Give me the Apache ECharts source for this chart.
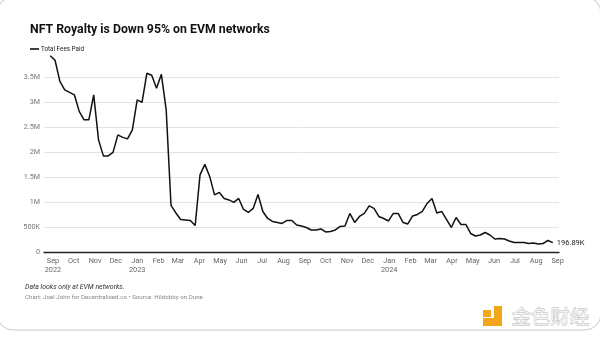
<!DOCTYPE html>
<html>
<head>
<meta charset="utf-8">
<script src="https://cdn.jsdelivr.net/npm/echarts@6/dist/echarts.min.js"></script>
<style>
html,body{margin:0;padding:0;background:#fff;}
#c{width:600px;height:338px;}
</style>
</head>
<body>
<div id="c"></div>
<script>
// ---- data ----
const weeks = [
 '2022-08-28','2022-09-04','2022-09-11','2022-09-18','2022-09-25','2022-10-02','2022-10-09','2022-10-16','2022-10-23','2022-10-30',
 '2022-11-06','2022-11-13','2022-11-20','2022-11-27','2022-12-04','2022-12-11','2022-12-18','2022-12-25',
 '2023-01-01','2023-01-08','2023-01-15','2023-01-22','2023-01-29','2023-02-05','2023-02-12','2023-02-19','2023-02-26',
 '2023-03-05','2023-03-12','2023-03-19','2023-03-26','2023-04-02','2023-04-09','2023-04-16','2023-04-23','2023-04-30',
 '2023-05-07','2023-05-14','2023-05-21','2023-05-28','2023-06-04','2023-06-11','2023-06-18','2023-06-25',
 '2023-07-02','2023-07-09','2023-07-16','2023-07-23','2023-07-30','2023-08-06','2023-08-13','2023-08-20','2023-08-27',
 '2023-09-03','2023-09-10','2023-09-17','2023-09-24','2023-10-01','2023-10-08','2023-10-15','2023-10-22','2023-10-29',
 '2023-11-05','2023-11-12','2023-11-19','2023-11-26','2023-12-03','2023-12-10','2023-12-17','2023-12-24','2023-12-31',
 '2024-01-07','2024-01-14','2024-01-21','2024-01-28','2024-02-04','2024-02-11','2024-02-18','2024-02-25',
 '2024-03-03','2024-03-10','2024-03-17','2024-03-24','2024-03-31','2024-04-07','2024-04-14','2024-04-21','2024-04-28',
 '2024-05-05','2024-05-12','2024-05-19','2024-05-26','2024-06-02','2024-06-09','2024-06-16','2024-06-23','2024-06-30',
 '2024-07-07','2024-07-14','2024-07-21','2024-07-28','2024-08-04','2024-08-11','2024-08-18','2024-08-25'
];
const totalFeesPaid = [
 3930000,3840000,3420000,3250000,3200000,3150000,2820000,2650000,2650000,3150000,
 2250000,1930000,1930000,2000000,2350000,2300000,2270000,2450000,
 3050000,3000000,3580000,3540000,3280000,3560000,2850000,940000,790000,
 660000,650000,640000,540000,1550000,1760000,1520000,1150000,1200000,
 1080000,1050000,1000000,1080000,860000,800000,880000,1160000,
 820000,680000,620000,600000,580000,640000,640000,550000,530000,
 500000,450000,450000,470000,410000,420000,450000,520000,530000,
 780000,600000,720000,780000,930000,880000,720000,680000,630000,
 780000,780000,600000,570000,730000,760000,820000,980000,
 1080000,790000,820000,660000,500000,700000,560000,560000,380000,
 330000,350000,400000,350000,270000,280000,270000,230000,200000,
 200000,200000,180000,190000,170000,180000,240000,196890
];
const yTicks = [0,500000,1000000,1500000,2000000,2500000,3000000,3500000];
const yTickLabels = ['0','500K','1M','1.5M','2M','2.5M','3M','3.5M'];
const monthNames = ['Jan','Feb','Mar','Apr','May','Jun','Jul','Aug','Sep','Oct','Nov','Dec'];
const lastLabel = '196.89K';
const seriesName = 'Total Fees Paid';

// ---- chart ----
const chart = echarts.init(document.getElementById('c'), null, {renderer:'canvas'});
const FONT = 'Roboto, "Noto Sans", sans-serif';
const seriesData = weeks.map((d,i)=>[d, totalFeesPaid[i]]);

chart.setOption({
  animation:false,
  backgroundColor:'#fff',
  textStyle:{fontFamily:FONT},
  title:[
    {text:'NFT Royalty is Down 95% on EVM networks', left:25, top:19,
     textStyle:{fontSize:12.3, fontWeight:'bold', color:'#111', fontFamily:FONT}},
  ],
  legend:{
    left:25, top:41, itemWidth:9, itemHeight:1.6, itemGap:4,
    icon:'rect',
    data:[{name:seriesName, itemStyle:{color:'#111'}}],
    textStyle:{fontSize:6.3, color:'#222', fontFamily:FONT, padding:[0,0,0,-3]}
  },
  grid:{left:44, right:41, top:77.3, bottom:85.5, containLabel:false},
  xAxis:{
    type:'time',
    min:'2022-08-19', max:'2024-09-03',
    splitNumber:24,
    maxInterval:31*86400000,
    minInterval:28*86400000,
    axisLine:{show:true, lineStyle:{color:'#222', width:1.3}},
    axisTick:{show:false},
    splitLine:{show:false},
    axisLabel:{
      fontSize:7.3, color:'#666', margin:4, lineHeight:9, fontFamily:FONT,
      hideOverlap:false,
      formatter:function(v){
        const d = new Date(v);
        if (d.getDate() !== 1) return '';
        const m = d.getMonth(), y = d.getFullYear();
        let s = monthNames[m];
        if (m === 0 || (m === 8 && y === 2022)) s += '\n' + y;
        return s;
      }
    }
  },
  yAxis:{
    type:'value', min:0, max:3500000, interval:500000,
    axisLine:{show:false}, axisTick:{show:false},
    splitLine:{show:true, lineStyle:{color:'#e3e3e3', width:1}},
    axisLabel:{fontSize:7.2, color:'#777', margin:4, fontFamily:FONT,
      formatter:function(v){ const i = yTicks.indexOf(v); return i>=0 ? yTickLabels[i] : ''; }}
  },
  series:[{
    name:seriesName,
    type:'line',
    data:seriesData,
    showSymbol:false,
    symbol:'none',
    clip:false,
    z:5,
    lineStyle:{color:'#111', width:1.5},
    itemStyle:{color:'#111'},
    endLabel:{show:true, formatter:lastLabel, fontSize:7.5, color:'#222', distance:4, fontFamily:FONT}
  }],
  graphic:[
    {type:'text', left:25, top:284, style:{text:'Data looks only at EVM networks.', fontSize:6.9, fontStyle:'italic', fill:'#333', fontFamily:FONT}},
    {type:'text', left:25, top:294.5, style:{text:'Chart: Joel John for Decentralised.co • Source: Hildobby on Dune', fontSize:6.2, fill:'#888', fontFamily:FONT}},
    {type:'rect', shape:{x:-3, y:-3, width:604, height:333, r:16}, style:{fill:null, stroke:'#c8c8c8', lineWidth:1}, silent:true},
    {type:'rect', shape:{x:483, y:310, width:8, height:7}, style:{fill:'#f2a71b'}},
    {type:'rect', shape:{x:494, y:306, width:8, height:20}, style:{fill:'#f2a71b'}},
    {type:'rect', shape:{x:483, y:318, width:19, height:8}, style:{fill:'#f2a71b'}},
    {type:'text', left:511, top:306, style:{text:'金色财经', fontSize:19.5, fill:'#f2f2f2', stroke:'#b5b5b5', lineWidth:0.8, fontFamily:'"Noto Sans CJK SC", sans-serif'}}
  ]
});
</script>
</body>
</html>
